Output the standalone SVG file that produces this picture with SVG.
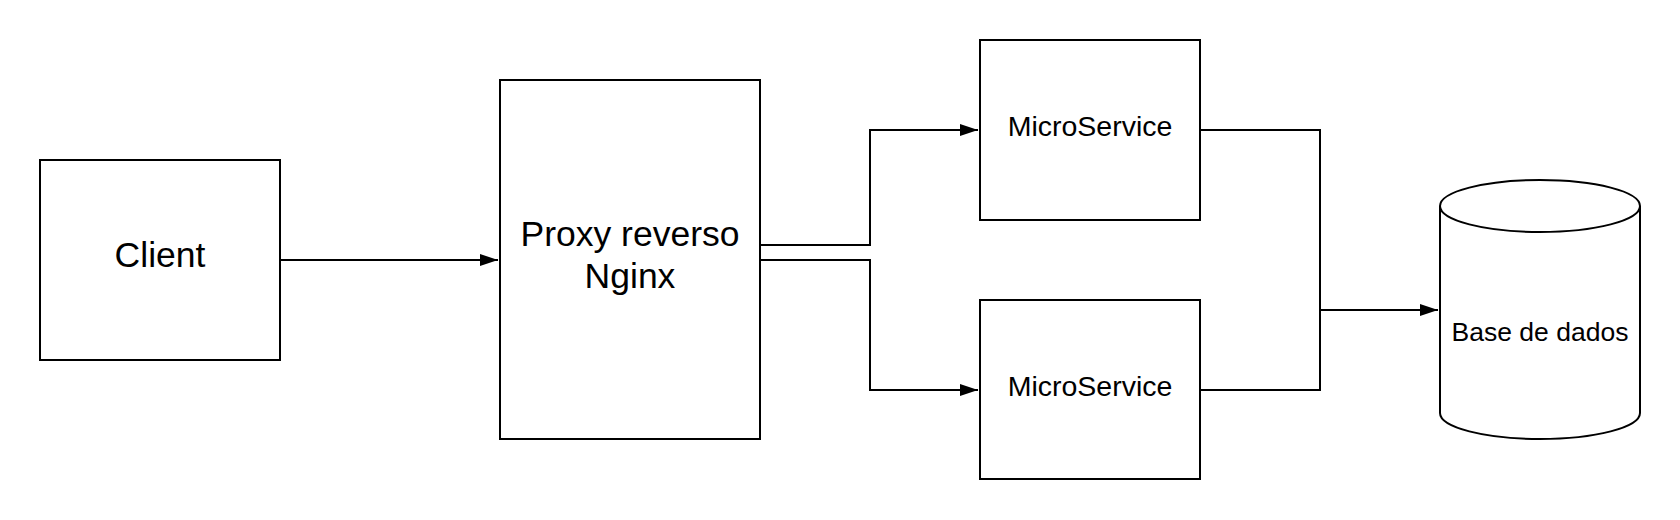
<svg xmlns="http://www.w3.org/2000/svg" width="1680" height="520" viewBox="0 0 1680 520">
<style>
.box{fill:#fff;stroke:#000;stroke-width:2}
.lbl{font-family:"Liberation Sans",Arial,sans-serif;fill:#000;text-anchor:middle}
.con{fill:none;stroke:#000;stroke-width:2}
</style>
<defs>
<marker id="arr" markerUnits="userSpaceOnUse" markerWidth="18" markerHeight="12" refX="18" refY="6" orient="auto">
<path d="M0,0 L18,6 L0,12 Z" fill="#000"/>
</marker>
</defs>
<rect width="1680" height="520" fill="#fff"/>
<g id="client">
<rect class="box" x="40" y="160" width="240" height="200"/>
<text class="lbl" x="160" y="267" font-size="35.5">Client</text>
</g>
<g id="proxy">
<rect class="box" x="500" y="80" width="260" height="359"/>
<text class="lbl" x="630" y="246" font-size="35.5">Proxy reverso</text>
<text class="lbl" x="630" y="288" font-size="35.5">Nginx</text>
</g>
<g id="ms1">
<rect class="box" x="980" y="40" width="220" height="180"/>
<text class="lbl" x="1090" y="136" font-size="28.5">MicroService</text>
</g>
<g id="ms2">
<rect class="box" x="980" y="300" width="220" height="179"/>
<text class="lbl" x="1090" y="396" font-size="28.5">MicroService</text>
</g>
<g id="db">
<path class="box" d="M1440,206 L1440,413 A100,26 0 0 0 1640,413 L1640,206 A100,26 0 0 0 1440,206 Z"/>
<path class="con" d="M1440,206 A100,26 0 0 0 1640,206"/>
<text class="lbl" x="1540" y="341" font-size="26.5">Base de dados</text>
</g>
<g id="connectors">
<path class="con" d="M280,260 L498,260" marker-end="url(#arr)"/>
<path class="con" d="M760,245 L870,245 L870,130 L978,130" marker-end="url(#arr)"/>
<path class="con" d="M760,260 L870,260 L870,390 L978,390" marker-end="url(#arr)"/>
<path class="con" d="M1200,130 L1320,130 L1320,390 L1200,390"/>
<path class="con" d="M1320,310 L1438,310" marker-end="url(#arr)"/>
</g>
</svg>
